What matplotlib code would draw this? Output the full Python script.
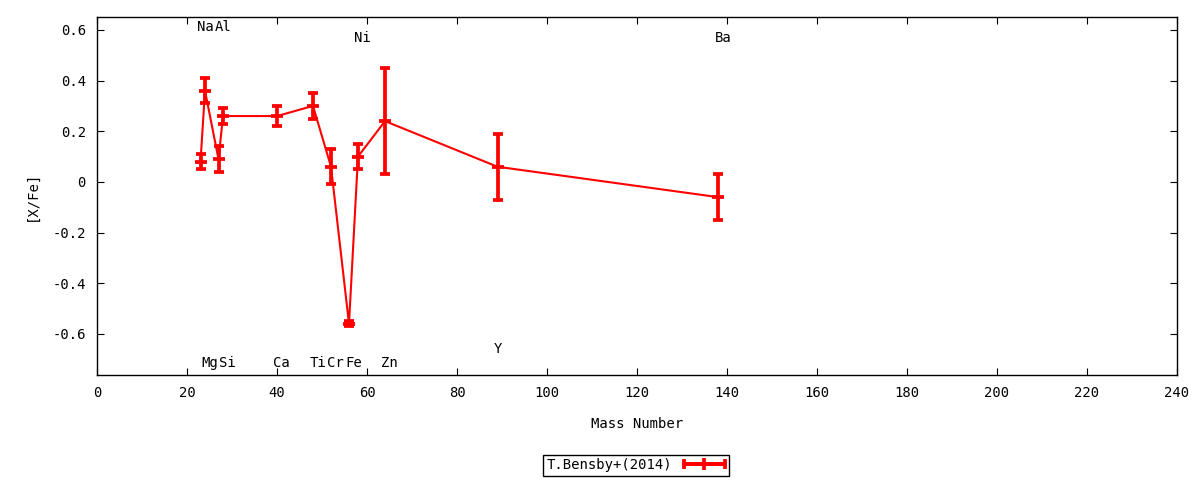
import numpy as np
import matplotlib
matplotlib.use('Agg')
import matplotlib.pyplot as plt
from matplotlib.legend_handler import HandlerErrorbar

# element abundances vs mass number
names = ['Na', 'Mg', 'Al', 'Si', 'Ca', 'Ti', 'Cr', 'Fe', 'Ni', 'Zn', 'Y', 'Ba']
mass = [23, 24, 27, 28, 40, 48, 52, 56, 58, 64, 89, 138]
xfe = [0.08, 0.36, 0.09, 0.26, 0.26, 0.30, 0.06, -0.56, 0.10, 0.24, 0.06, -0.06]
err = [0.03, 0.05, 0.05, 0.03, 0.04, 0.05, 0.07, 0.01, 0.05, 0.21, 0.13, 0.09]
label_y = [0.61, -0.715, 0.61, -0.715, -0.715, -0.715, -0.715, -0.715, 0.57, -0.715, -0.66, 0.57]

xticks = list(range(0, 241, 20))
yticks = [-0.6, -0.4, -0.2, 0, 0.2, 0.4, 0.6]
ytick_labels = ['-0.6', '-0.4', '-0.2', '0', '0.2', '0.4', '0.6']

plt.rcParams['font.family'] = ['DejaVu Sans Mono']
plt.rcParams['font.size'] = 10

fig = plt.figure(figsize=(12, 4.8), dpi=100)
ax = fig.add_axes([97 / 1200, 105 / 480, 1080 / 1200, 358 / 480])

ax.errorbar(mass, xfe, yerr=err, color='red', lw=1.5, elinewidth=2.7,
            capsize=3.5, capthick=2.7, marker='_', ms=8, mew=2.7)

for n, m, ly in zip(names, mass, label_y):
    ax.text(m - 0.8, ly, n, ha='left', va='center', color='black')

# legend proxy with a horizontal error bar like gnuplot
proxy = ax.errorbar([np.nan], [np.nan], xerr=[1], color='red', lw=2.7,
                    elinewidth=2.7, capsize=3.5, capthick=2.7,
                    marker='|', ms=8, mew=2.7, label='T.Bensby+(2014)')
leg = fig.legend(handles=[proxy], loc='center', bbox_to_anchor=(0.53, 0.031),
                 markerfirst=False, fancybox=False, edgecolor='black',
                 framealpha=1, handlelength=3.0, borderpad=0.25,
                 handler_map={type(proxy): HandlerErrorbar(xerr_size=1.5)})
leg.get_frame().set_linewidth(1.0)

ax.set_xlim(0, 240)
ax.set_ylim(-0.762, 0.651)
ax.set_xticks(xticks)
ax.set_yticks(yticks)
ax.set_yticklabels(ytick_labels)
ax.tick_params(direction='in', top=True, right=True, length=5, pad=8)
ax.set_xlabel('Mass Number', labelpad=12)
ax.set_ylabel('[X/Fe]', labelpad=10)
for s in ax.spines.values():
    s.set_linewidth(1.0)

fig.savefig('out.png')
